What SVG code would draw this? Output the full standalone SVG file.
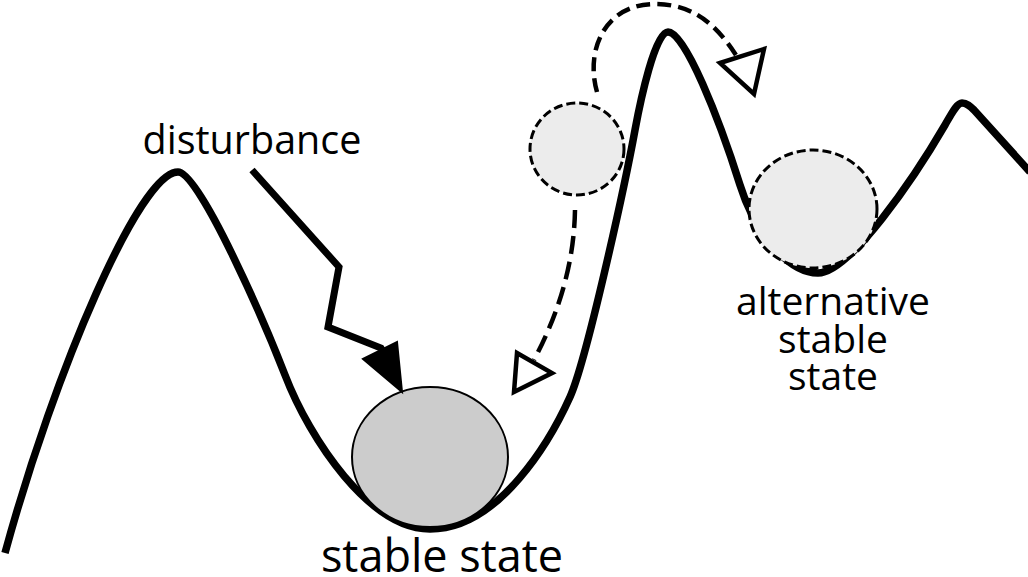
<svg xmlns="http://www.w3.org/2000/svg" width="1028" height="577" viewBox="0 0 1028 577">
<style>
.lbl{font-family:"Open Sans","Noto Sans",sans-serif;fill:#000;text-anchor:middle}
.land{fill:none;stroke:#000;stroke-width:7.5;stroke-linejoin:round;stroke-linecap:butt}
.dash{fill:none;stroke:#000;stroke-width:4.5}
.head{fill:#fff;stroke:#000;stroke-width:4.5;stroke-linejoin:miter}
.ghost{fill:#ececec;stroke:#000;stroke-width:3;stroke-dasharray:9 4}
</style>
<rect width="1028" height="577" fill="#fff"/>
<path id="landscape" class="land" d="M5,553 C55,370 140,172 178,172 C200,172 267,328.5 285,375 C310,440 370,529 430,529 C500,529 551.5,438 570,397 C586.4,360.6 624.2,188.8 635,130 C640.4,100.6 655,32 668,32 C685,32 719,118.5 740,185 C756.5,237 790,273 818,273 C850,273 915,176.6 945,125 C952,113 957,103 962,103 C967,103 970,106 974,110 L1030,172"/>
<g id="ball-stable">
<ellipse cx="430" cy="457" rx="78" ry="70" fill="#cccccc" stroke="#000" stroke-width="2"/>
</g>
<g id="ball-displaced">
<ellipse class="ghost" cx="577" cy="149" rx="47" ry="46"/>
</g>
<g id="ball-alternative">
<ellipse class="ghost" cx="813" cy="209" rx="64" ry="59" stroke-dasharray="10 5" stroke-width="3.5"/>
</g>
<g id="connectors">
<g id="disturbance-arrow">
<polyline points="252,170 339,267 328,327 381,348 386,356" fill="none" stroke="#000" stroke-width="7" stroke-linejoin="miter"/>
<polygon points="363,359 397,342 402,392" fill="#000" stroke="#000" stroke-width="2" stroke-linejoin="miter"/>
</g>
<g id="arc-arrow">
<path class="dash" stroke-dasharray="14 7" d="M597,92 C585,50 605,4 655,4 C700,4 721.5,33 738,58"/>
<polygon class="head" points="720,63 764,49 754,94"/>
</g>
<g id="fall-arrow">
<path class="dash" stroke-dasharray="18 8" d="M575,210 C574,270 555,320 534,360"/>
<polygon class="head" points="517,353 552,373 514,392"/>
</g>
</g>
<g id="label-disturbance"><text class="lbl" x="252" y="154" font-size="39.5">disturbance</text></g>
<g id="label-stable"><text class="lbl" x="442" y="572" font-size="45">stable state</text></g>
<g id="label-alternative">
<text class="lbl" x="833" y="315" font-size="39">alternative</text>
<text class="lbl" x="833" y="353" font-size="39">stable</text>
<text class="lbl" x="833" y="390" font-size="39">state</text>
</g>
</svg>
